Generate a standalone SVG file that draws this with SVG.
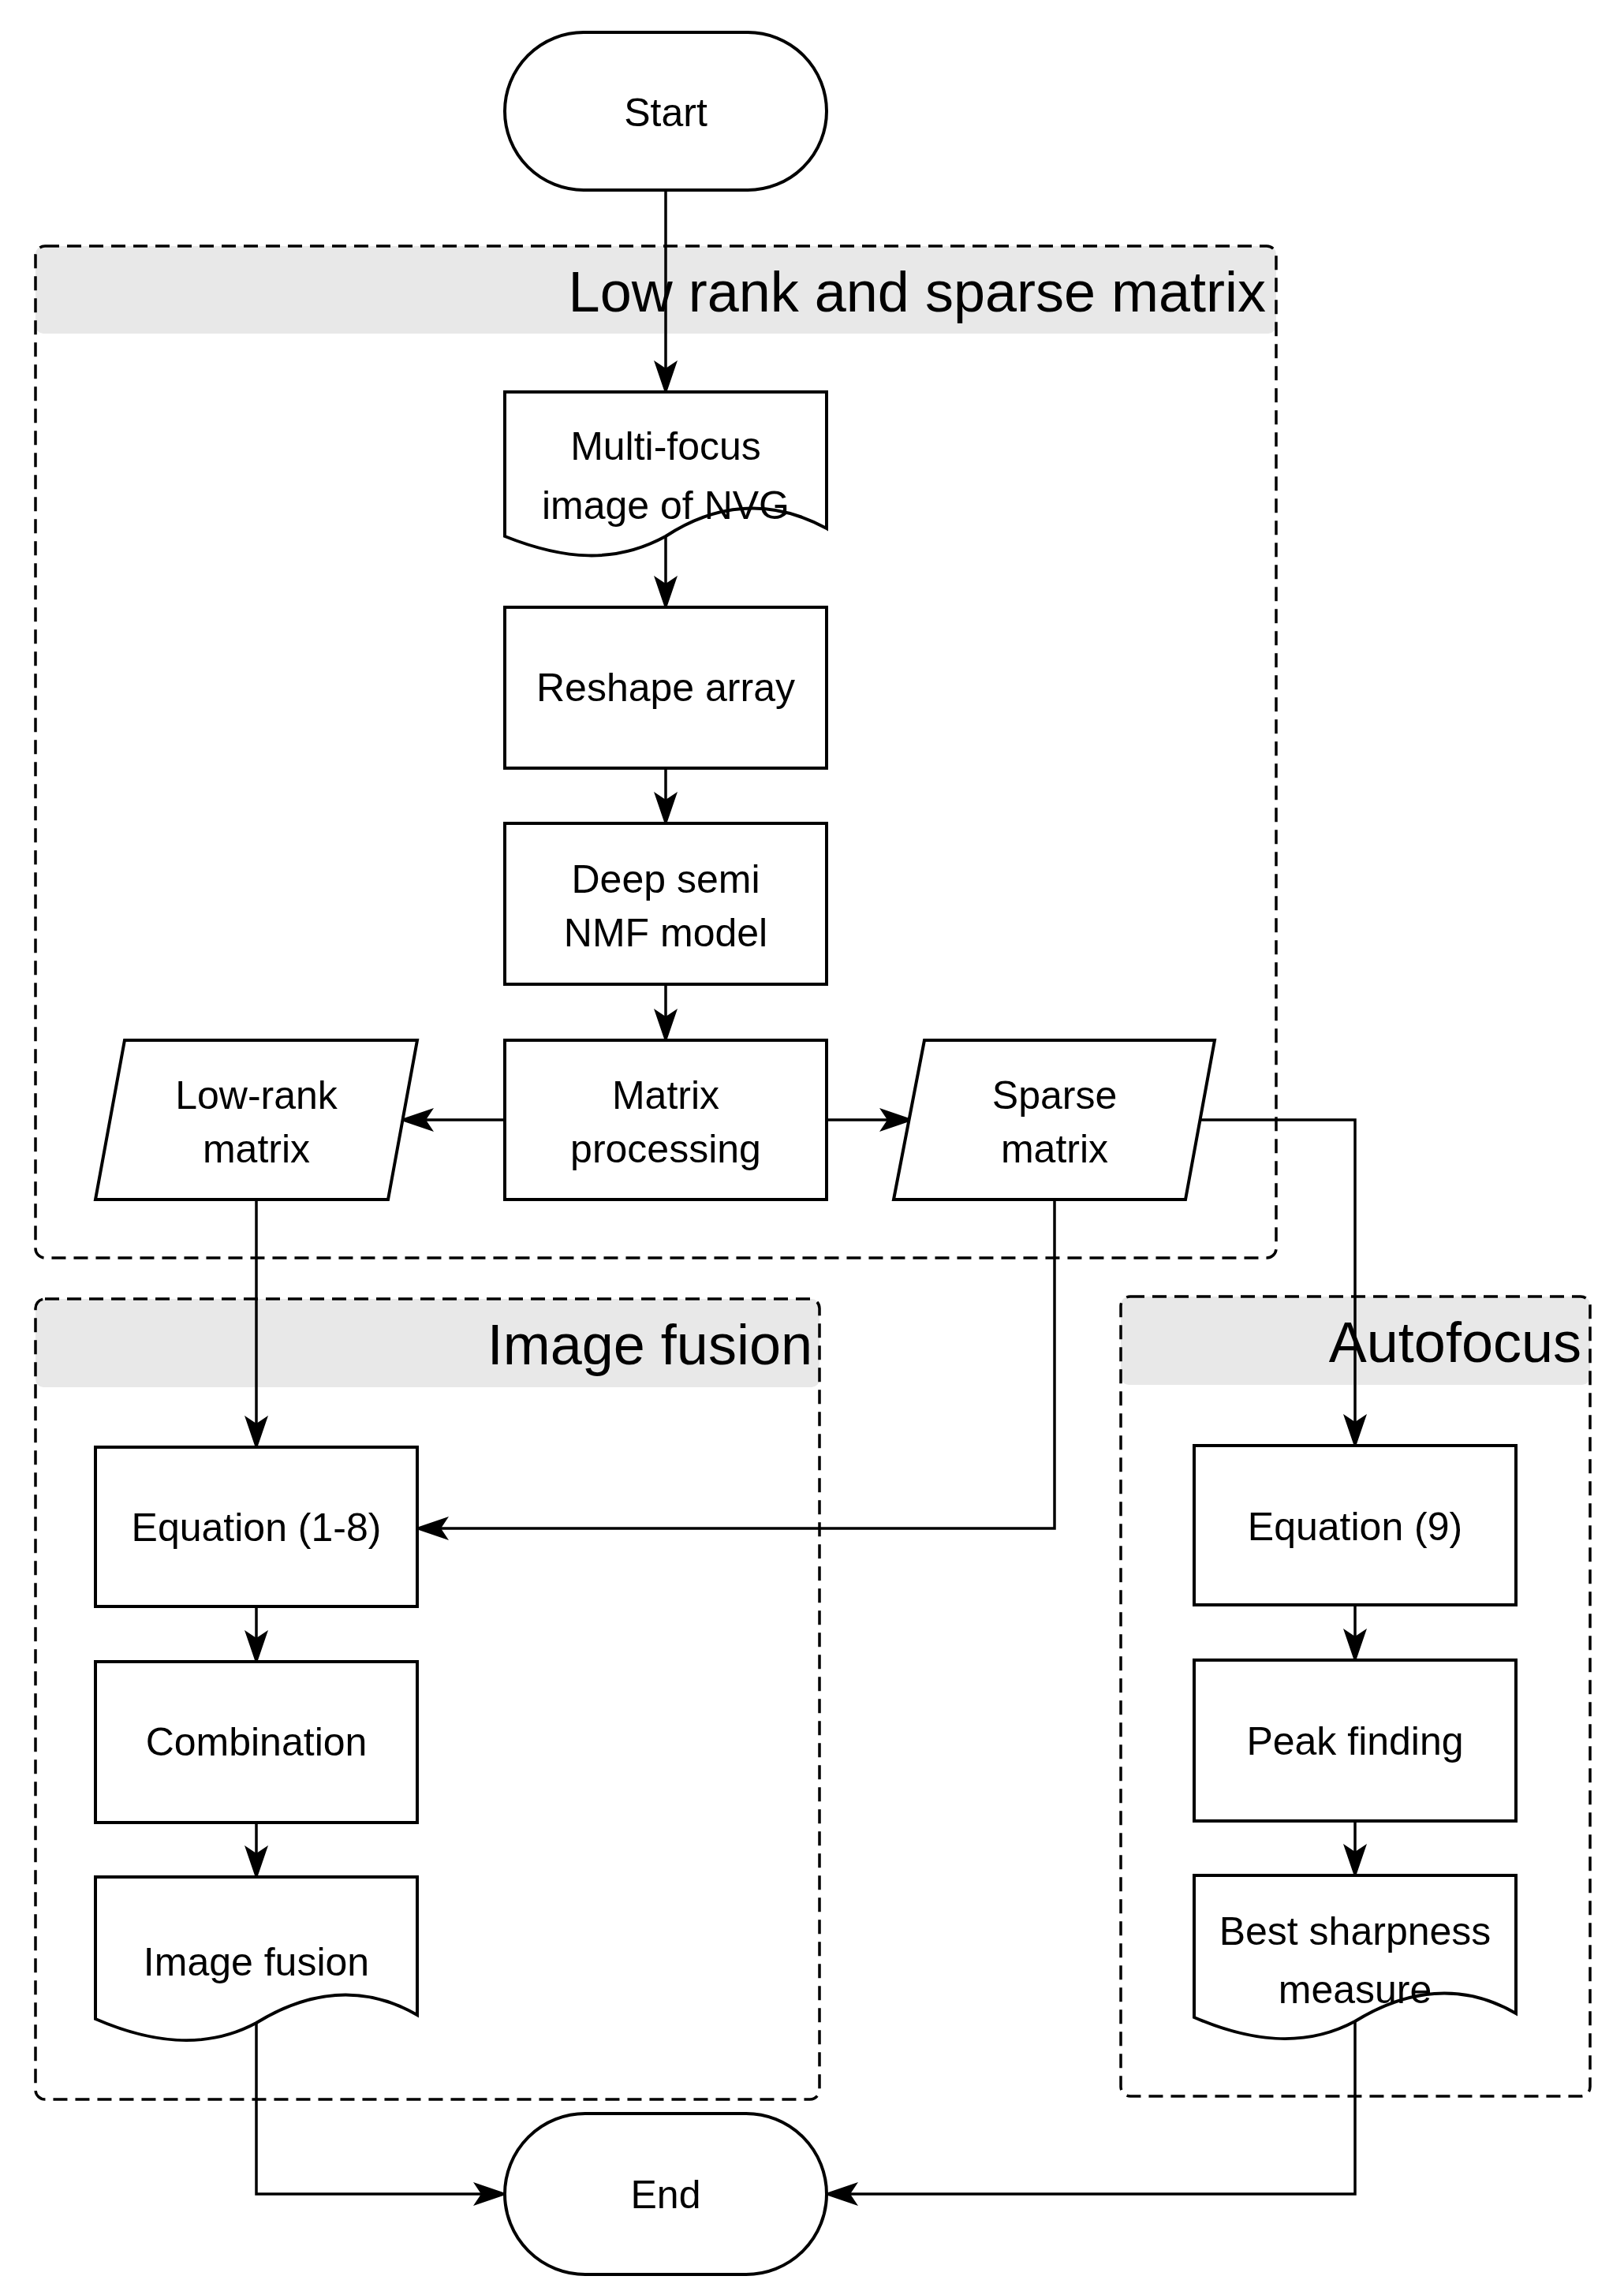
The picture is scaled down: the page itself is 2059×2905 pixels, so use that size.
<svg xmlns="http://www.w3.org/2000/svg" width="2059" height="2905" viewBox="0 0 2059 2905">
<style>
.n{fill:#fff;stroke:#000;stroke-width:4}
.g{fill:none;stroke:#000;stroke-width:3.5;stroke-dasharray:18 10}
.h{fill:#e8e8e8;stroke:none}
.t{font-family:"Liberation Sans",Arial,sans-serif;font-size:50px;text-anchor:middle;fill:#000}
.gt{font-family:"Liberation Sans",Arial,sans-serif;font-size:72px;text-anchor:end;fill:#000}
.c{fill:none;stroke:#000;stroke-width:3.5;marker-end:url(#a)}
</style>
<defs>
<marker id="a" markerUnits="userSpaceOnUse" markerWidth="50" markerHeight="50" refX="40" refY="20" orient="auto" viewBox="0 0 50 40">
<path d="M0,5 L44,20 L0,35 L10,20 Z" fill="#000"/>
</marker>
</defs>
<g id="group-lowrank">
<rect class="h" x="45" y="312" width="1573" height="111" rx="10"/>
<rect class="g" x="45" y="312" width="1573" height="1283" rx="12"/>
<text class="gt" x="1605" y="395">Low rank and sparse matrix</text>
</g>
<g id="group-fusion">
<rect class="h" x="45" y="1647" width="994" height="112" rx="10"/>
<rect class="g" x="45" y="1647" width="994" height="1015" rx="12"/>
<text class="gt" x="1030" y="1730">Image fusion</text>
</g>
<g id="group-autofocus">
<rect class="h" x="1421" y="1644" width="595" height="112" rx="10"/>
<rect class="g" x="1421" y="1644" width="595" height="1014" rx="12"/>
<text class="gt" x="2005" y="1727">Autofocus</text>
</g>
<g id="connectors">
<path class="c" d="M844,241 V497"/>
<path class="c" d="M844,678 V770"/>
<path class="c" d="M844,974 V1044"/>
<path class="c" d="M844,1248 V1319"/>
<path class="c" d="M640,1420 H510"/>
<path class="c" d="M1048,1420 H1155"/>
<path class="c" d="M1512,1420 H1718 V1833"/>
<path class="c" d="M325,1521 V1835"/>
<path class="c" d="M1337,1521 V1938 H529"/>
<path class="c" d="M325,2037 V2107"/>
<path class="c" d="M325,2311 V2380"/>
<path class="c" d="M1718,2035 V2105"/>
<path class="c" d="M1718,2309 V2378"/>
<path class="c" d="M325,2560 V2782 H640"/>
<path class="c" d="M1718,2556 V2782 H1048"/>
</g>
<g id="start"><rect class="n" x="640" y="41" width="408" height="200" rx="100"/><text class="t" x="844" y="160">Start</text></g>
<g id="multifocus"><path class="n" d="M640,497 H1048 V670 C975,630 905,640 844,680 C780,715 715,710 640,680 Z"/><text class="t" x="844" y="583">Multi-focus</text><text class="t" x="844" y="658">image of NVG</text></g>
<g id="reshape"><rect class="n" x="640" y="770" width="408" height="204"/><text class="t" x="844" y="889">Reshape array</text></g>
<g id="deepsemi"><rect class="n" x="640" y="1044" width="408" height="204"/><text class="t" x="844" y="1132">Deep semi</text><text class="t" x="844" y="1200">NMF model</text></g>
<g id="matrixproc"><rect class="n" x="640" y="1319" width="408" height="202"/><text class="t" x="844" y="1406">Matrix</text><text class="t" x="844" y="1474">processing</text></g>
<g id="lowrank"><path class="n" d="M158,1319 H529 L492,1521 H121 Z"/><text class="t" x="325" y="1406">Low-rank</text><text class="t" x="325" y="1474">matrix</text></g>
<g id="sparse"><path class="n" d="M1172,1319 H1540 L1503,1521 H1133 Z"/><text class="t" x="1337" y="1406">Sparse</text><text class="t" x="1337" y="1474">matrix</text></g>
<g id="eq18"><rect class="n" x="121" y="1835" width="408" height="202"/><text class="t" x="325" y="1954">Equation (1-8)</text></g>
<g id="combination"><rect class="n" x="121" y="2107" width="408" height="204"/><text class="t" x="325" y="2226">Combination</text></g>
<g id="imagefusion"><path class="n" d="M121,2380 H529 V2555 C460,2515 390,2525 325,2565 C260,2600 190,2590 121,2560 Z"/><text class="t" x="325" y="2505">Image fusion</text></g>
<g id="eq9"><rect class="n" x="1514" y="1833" width="408" height="202"/><text class="t" x="1718" y="1953">Equation (9)</text></g>
<g id="peak"><rect class="n" x="1514" y="2105" width="408" height="204"/><text class="t" x="1718" y="2225">Peak finding</text></g>
<g id="best"><path class="n" d="M1514,2378 H1922 V2553 C1853,2513 1783,2523 1718,2563 C1653,2598 1583,2588 1514,2558 Z"/><text class="t" x="1718" y="2466">Best sharpness</text><text class="t" x="1718" y="2540">measure</text></g>
<g id="end"><rect class="n" x="640" y="2680" width="408" height="204" rx="102"/><text class="t" x="844" y="2800">End</text></g>
</svg>
